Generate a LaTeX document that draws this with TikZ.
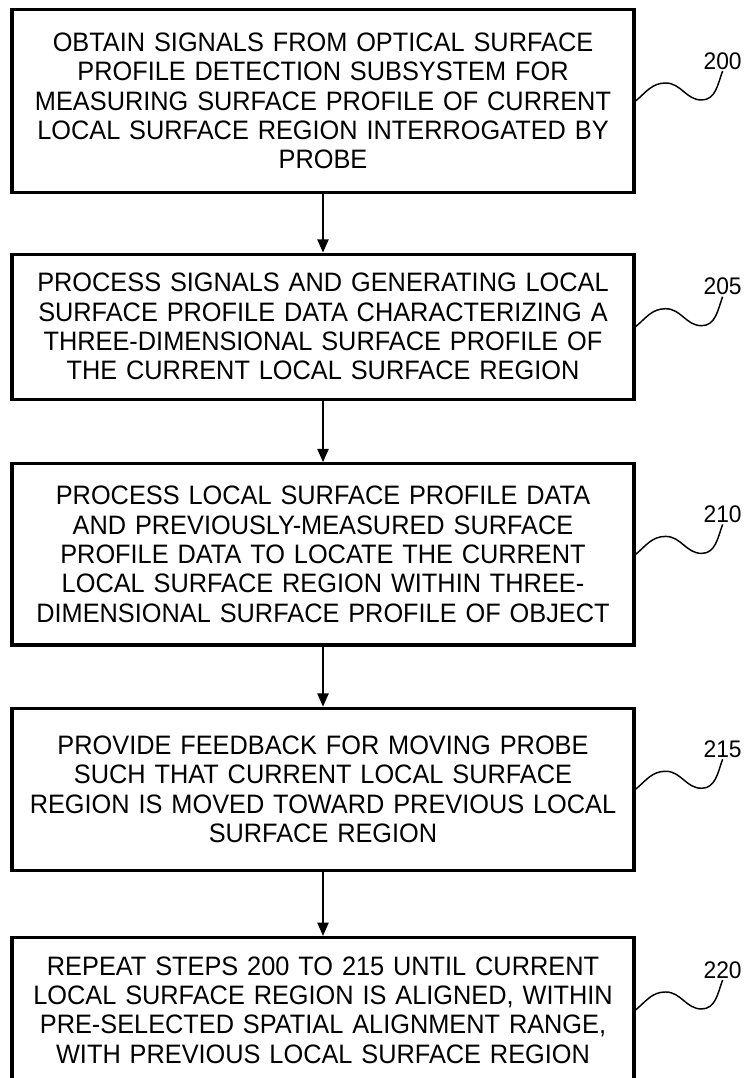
\documentclass[tikz,border=0pt]{standalone}
\usepackage{fontspec}
\setmainfont{Liberation Sans}
\newfontfamily\stepfont[FakeStretch=0.95]{Liberation Sans}
\usetikzlibrary{arrows.meta,positioning}

\begin{document}
\begin{tikzpicture}[
    x=0.75pt, y=0.75pt,
    stepbox/.style={rectangle, draw, line width=2.4pt, minimum width=466.5pt,
      text width=460pt, inner sep=0pt, align=center,
      font=\stepfont\fontsize{20}{22}\selectfont},
    arr/.style={-{Triangle[length=10pt,width=8.5pt]}, line width=1.2pt},
    squig/.style={line width=1.1pt},
    reflabel/.style={anchor=south, inner sep=1pt, font=\stepfont\fontsize{18}{20}\selectfont}
  ]

  \useasboundingbox (0,0) rectangle (743,-1078);

  %% Step boxes
  \node[stepbox, minimum height=137pt] (s200) at (323,-101)
    {OBTAIN SIGNALS FROM OPTICAL SURFACE\\
     PROFILE DETECTION SUBSYSTEM FOR\\
     MEASURING SURFACE PROFILE OF CURRENT\\
     LOCAL SURFACE REGION INTERROGATED BY\\
     PROBE};
  \node[stepbox, minimum height=108.75pt, below=44pt of s200] (s205)
    {PROCESS SIGNALS AND GENERATING LOCAL\\
     SURFACE PROFILE DATA CHARACTERIZING A\\
     THREE-DIMENSIONAL SURFACE PROFILE OF\\
     THE CURRENT LOCAL SURFACE REGION};
  \node[stepbox, minimum height=136pt, below=46pt of s205] (s210)
    {PROCESS LOCAL SURFACE PROFILE DATA\\
     AND PREVIOUSLY-MEASURED SURFACE\\
     PROFILE DATA TO LOCATE THE CURRENT\\
     LOCAL SURFACE REGION WITHIN THREE-\\
     DIMENSIONAL SURFACE PROFILE OF OBJECT};
  \node[stepbox, minimum height=121.5pt, below=45pt of s210] (s215)
    {PROVIDE FEEDBACK FOR MOVING PROBE\\
     SUCH THAT CURRENT LOCAL SURFACE\\
     REGION IS MOVED TOWARD PREVIOUS LOCAL\\
     SURFACE REGION};
  \node[stepbox, minimum height=108.75pt, below=48pt of s215] (s220)
    {REPEAT STEPS 200 TO 215 UNTIL CURRENT\\
     LOCAL SURFACE REGION IS ALIGNED, WITHIN\\
     PRE-SELECTED SPATIAL ALIGNMENT RANGE,\\
     WITH PREVIOUS LOCAL SURFACE REGION};

  %% Arrows between steps
  \draw[arr] (s200) -- (s205);
  \draw[arr] (s205) -- (s210);
  \draw[arr] (s210) -- (s215);
  \draw[arr] (s215) -- (s220);

  %% Reference numerals
  \node[reflabel] (r200) at ([shift={(87,30)}]s200.east) {200};
  \node[reflabel] (r205) at ([shift={(87,30)}]s205.east) {205};
  \node[reflabel] (r210) at ([shift={(87,30)}]s210.east) {210};
  \node[reflabel] (r215) at ([shift={(87,30)}]s215.east) {215};
  \node[reflabel] (r220) at ([shift={(87,30)}]s220.east) {220};

  %% Leader squiggles
  \draw[squig] (s200.east) to[out=40,in=180] ++(30,18) to[out=0,in=180] ++(36,-17) to[out=0,in=-110] (r200.south);
  \draw[squig] (s205.east) to[out=40,in=180] ++(30,18) to[out=0,in=180] ++(36,-17) to[out=0,in=-110] (r205.south);
  \draw[squig] (s210.east) to[out=40,in=180] ++(30,18) to[out=0,in=180] ++(36,-17) to[out=0,in=-110] (r210.south);
  \draw[squig] (s215.east) to[out=40,in=180] ++(30,18) to[out=0,in=180] ++(36,-17) to[out=0,in=-110] (r215.south);
  \draw[squig] (s220.east) to[out=40,in=180] ++(30,18) to[out=0,in=180] ++(36,-17) to[out=0,in=-110] (r220.south);

\end{tikzpicture}
\end{document}
